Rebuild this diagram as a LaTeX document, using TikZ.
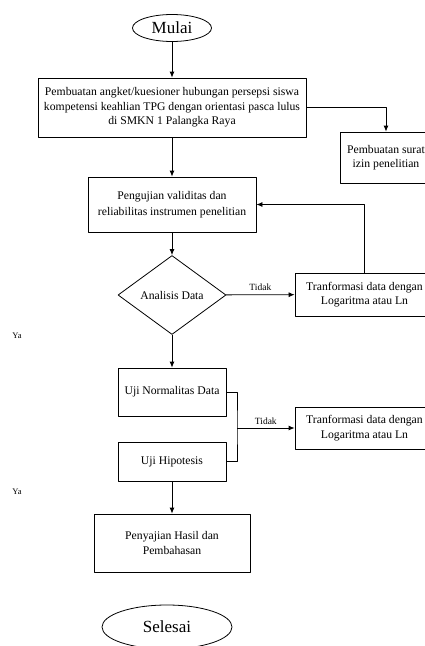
\documentclass[tikz,border=0pt]{standalone}
\usepackage{fontspec}
\setmainfont{Liberation Serif}
\usetikzlibrary{arrows.meta,calc,shapes.geometric}
\usetikzlibrary{positioning}
\tikzset{kotak/.style={draw,align=center,inner sep=0pt,font=\fontsize{11.7}{14.5}\selectfont},
  oval/.style={draw,ellipse,inner sep=0pt,font=\fontsize{17}{20}\selectfont},
  ket/.style={font=\fontsize{8.5}{10}\selectfont}}

\begin{document}
\begin{tikzpicture}[x=1pt,y=1pt,>={Latex[length=6pt,width=5pt]},line join=round,line width=0.8pt]
\useasboundingbox (0,0) rectangle (425,-646);
% --- main column
\node[oval,minimum width=79,minimum height=27] (mulai) at (172,-28) {Mulai};
\node[kotak,minimum width=268,minimum height=59] (angket) at (172,-107.5) {Pembuatan angket/kuesioner hubungan persepsi siswa\\kompetensi keahlian TPG dengan orientasi pasca lulus\\di SMKN 1 Palangka Raya};
\node[kotak,minimum width=92,minimum height=51] (surat) at (386,-157.5) {Pembuatan surat\\izin penelitian};
\node[kotak,minimum width=168,minimum height=55,font=\fontsize{11.7}{16}\selectfont] (uji) at (172,-204.5) {Pengujian validitas dan\\reliabilitas instrumen penelitian};
\node[kotak,diamond,aspect=1.37,minimum width=108,minimum height=79] (analisis) at (172,-295) {Analisis Data};
\node[kotak,minimum width=139,minimum height=43] (trans1) at (364.5,-294.5) {Tranformasi data dengan\\Logaritma atau Ln};
\node[kotak,minimum width=108,minimum height=48] (normal) at (172,-392) {Uji Normalitas Data};
\node[kotak,minimum width=139,minimum height=42] (trans2) at (364.5,-428) {Tranformasi data dengan\\Logaritma atau Ln};
\node[kotak,minimum width=108,minimum height=39] (hipotesis) at (172,-461.5) {Uji Hipotesis};
\node[kotak,minimum width=156,minimum height=58] (sajian) at (172,-543) {Penyajian Hasil dan\\Pembahasan};
\node[oval,minimum width=130,minimum height=44] (selesai) at (167,-627) {Selesai};
\node[ket] (ya1) at (17,-336) {Ya};
\node[ket] (ya2) at (17,-492) {Ya};
% --- connectors
\draw[->] (mulai) -- (angket);
\draw[->] (angket.east) -| (surat.north);
\draw[->] (angket) -- (uji);
\draw[->] (uji) -- (analisis);
\draw[->] (analisis) -- node[ket,above,font=\fontsize{9.5}{11}\selectfont] {Tidak} (trans1);
\draw[->] (trans1.north) |- (uji.east);
\draw[->] (analisis) -- (normal);
\coordinate (simpul) at (trans2.west -| 237,0);
\draw (normal.east) -| (simpul) |- (hipotesis.east);
\draw[->] (simpul) -- node[ket,above,font=\fontsize{9.5}{11}\selectfont] {Tidak} (trans2);
\draw[->] (hipotesis) -- (sajian);
\end{tikzpicture}
\end{document}
